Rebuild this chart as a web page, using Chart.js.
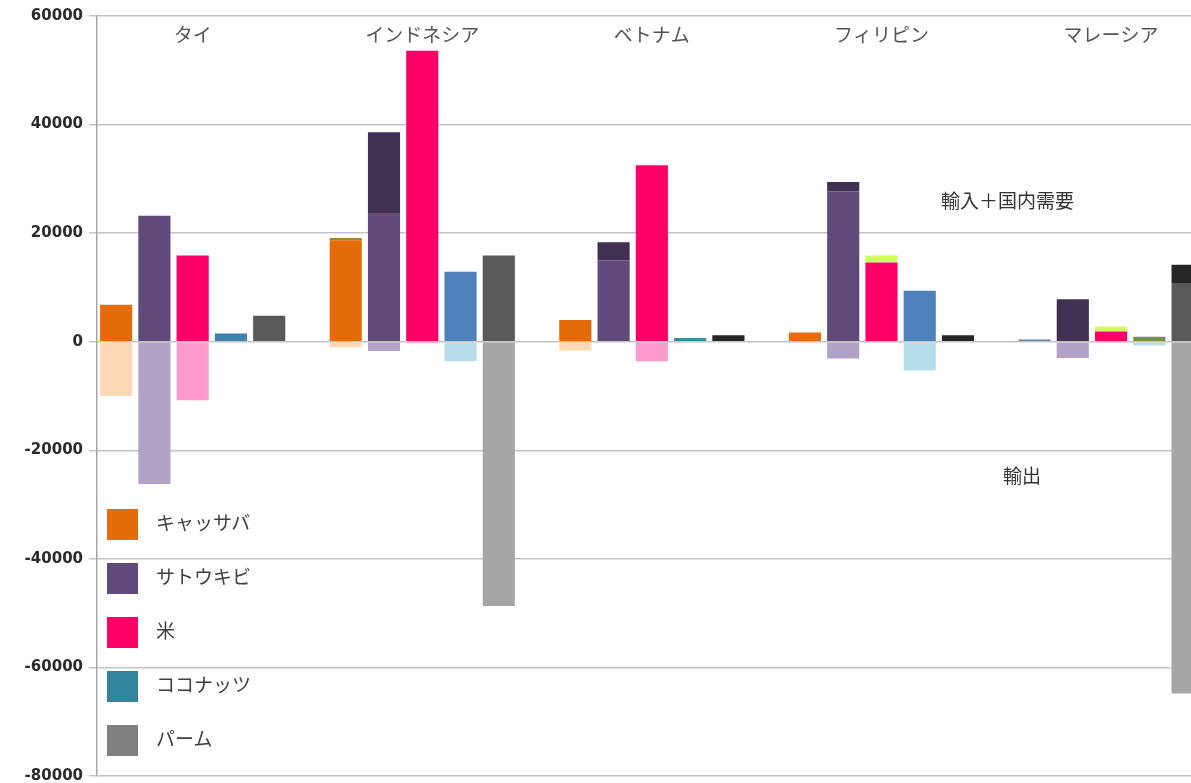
<!DOCTYPE html>
<html lang="ja">
<head>
    <meta charset="UTF-8">
    <title>作物の需要と輸出</title>
    <script src="https://cdn.jsdelivr.net/npm/chart.js"></script>
    <style>
        html, body { margin: 0; padding: 0; background: #fff; overflow: hidden; }
        .wrap { position: relative; width: 1191px; height: 783px; overflow: hidden; }
        #cropChart { position: absolute; left: 0; top: 0; }
        .legend { position: absolute; left: 107px; top: 509px; font-family: "Noto Sans CJK JP", sans-serif; font-size: 19px; color: #404040; }
        .legend div { height: 54px; display: flex; align-items: flex-start; }
        .legend span.box { width: 31px; height: 31px; margin-right: 18px; display: inline-block; }
        .note { position: absolute; font-family: "Noto Sans CJK JP", sans-serif; font-size: 19px; color: #333; }
    </style>
</head>
<body>
<div class="wrap">
    <canvas id="cropChart"></canvas>
    <div class="legend" id="legend"></div>
    <div class="note" style="left:941px; top:186px;">輸入＋国内需要</div>
    <div class="note" style="left:1003px; top:461px;">輸出</div>
</div>

<script>
    // 国
    const countries = ['タイ', 'インドネシア', 'ベトナム', 'フィリピン', 'マレーシア'];

    // 作物ごとの値（国内需要・輸入・輸出）
    const cassavaDomestic = [6800, 18700, 4000, 1700, 400];
    const cassavaImport = [0, 400, 0, 0, 0];
    const cassavaExport = [-10000, -1000, -1600, 0, 0];

    const sugarcaneDomestic = [23200, 23700, 15000, 27700, 0];
    const sugarcaneImport = [0, 14900, 3300, 1700, 7800];
    const sugarcaneExport = [-26200, -1700, 0, -3100, -3000];

    const riceDomestic = [15900, 53600, 32500, 14600, 1900];
    const riceImport = [0, 0, 0, 1300, 900];
    const riceExport = [-10800, -300, -3600, 0, 0];

    const coconutDomestic = [1500, 12900, 700, 9400, 900];
    const coconutImport = [0, 0, 0, 0, 0];
    const coconutExport = [0, -3600, 0, -5300, -700];

    const palmDomestic = [4800, 15900, 0, 0, 10800];
    const palmImport = [0, 0, 1200, 1200, 3400];
    const palmExport = [0, -48700, 0, 0, -64800];

    const crops = ['キャッサバ', 'サトウキビ', '米', 'ココナッツ', 'パーム'];
    const legendColors = ['#e46c0a', '#604a7b', '#ff0066', '#31849b', '#808080'];

    const yTicks = [60000, 40000, 20000, 0, -20000, -40000, -60000, -80000];

    function ds(label, stack, data, color) {
        return { label: label, stack: stack, data: data, backgroundColor: color, borderWidth: 0 };
    }

    const datasets = [
        ds('キャッサバ 国内', 'c', cassavaDomestic, ['#e46c0a', '#e46c0a', '#e46c0a', '#e46c0a', '#5b86ad']),
        ds('キャッサバ 輸入', 'c', cassavaImport, '#9a8a2a'),
        ds('キャッサバ 輸出', 'c', cassavaExport, '#fdd8b5'),
        ds('サトウキビ 国内', 's', sugarcaneDomestic, '#604a7b'),
        ds('サトウキビ 輸入', 's', sugarcaneImport, '#403152'),
        ds('サトウキビ 輸出', 's', sugarcaneExport, '#b3a2c7'),
        ds('米 国内', 'r', riceDomestic, '#ff0066'),
        ds('米 輸入', 'r', riceImport, '#ccff66'),
        ds('米 輸出', 'r', riceExport, '#ff99cc'),
        ds('ココナッツ 国内', 'k', coconutDomestic, ['#3d80ae', '#4f81bd', '#3f8aa0', '#4f81bd', '#77933c']),
        ds('ココナッツ 輸入', 'k', coconutImport, '#31849b'),
        ds('ココナッツ 輸出', 'k', coconutExport, '#b7dee8'),
        ds('パーム 国内', 'p', palmDomestic, '#595959'),
        ds('パーム 輸入', 'p', palmImport, '#262626'),
        ds('パーム 輸出', 'p', palmExport, '#a6a6a6'),
        ds('', 'blank', [0, 0, 0, 0, 0], 'rgba(0,0,0,0)')
    ];

    // 凡例
    const legendEl = document.getElementById('legend');
    crops.forEach((name, i) => {
        const row = document.createElement('div');
        row.innerHTML = '<span class="box" style="background:' + legendColors[i] + '"></span><span style="line-height:26px">' + name + '</span>';
        legendEl.appendChild(row);
    });

    // 国名を各グループの中央に描く
    const groupLabels = {
        id: 'groupLabels',
        afterDraw(chart) {
            const x = chart.scales.x;
            const ctx = chart.ctx;
            const slot = (x.getPixelForValue(1) - x.getPixelForValue(0)) / 6;
            ctx.save();
            ctx.font = '19px "Noto Sans CJK JP"';
            ctx.fillStyle = '#555';
            ctx.textAlign = 'center';
            ctx.textBaseline = 'middle';
            countries.forEach((c, i) => {
                ctx.fillText(c, x.getPixelForValue(i) - slot / 2, 35);
            });
            ctx.restore();
        }
    };

    const canvas = document.getElementById('cropChart');
    canvas.width = 1250;
    canvas.height = 791;
    canvas.style.width = '1250px';
    canvas.style.height = '791px';

    new Chart(canvas.getContext('2d'), {
        type: 'bar',
        data: { labels: countries, datasets: datasets },
        options: {
            responsive: false,
            animation: false,
            devicePixelRatio: 1,
            layout: { padding: { top: 16, bottom: 0, right: 5, left: 0 } },
            plugins: { legend: { display: false }, tooltip: { enabled: false } },
            datasets: { bar: { categoryPercentage: 1.0, barPercentage: 0.84 } },
            scales: {
                x: {
                    stacked: true,
                    display: false
                },
                y: {
                    stacked: true,
                    min: -80000,
                    max: 60000,
                    afterFit(scale) { scale.width = 97; },
                    afterBuildTicks(scale) { scale.ticks = yTicks.map(v => ({ value: v })); },
                    border: { display: true, color: '#a6a6a6', width: 1.5 },
                    grid: { color: '#c4c4c4', lineWidth: 1.5, tickLength: 8, drawTicks: true },
                    ticks: {
                        padding: 6,
                        color: '#2a2a2a',
                        font: { family: 'DejaVu Sans', size: 15, weight: 'bold' },
                        callback: (v) => String(v)
                    }
                }
            }
        },
        plugins: [groupLabels]
    });
</script>
</body>
</html>
